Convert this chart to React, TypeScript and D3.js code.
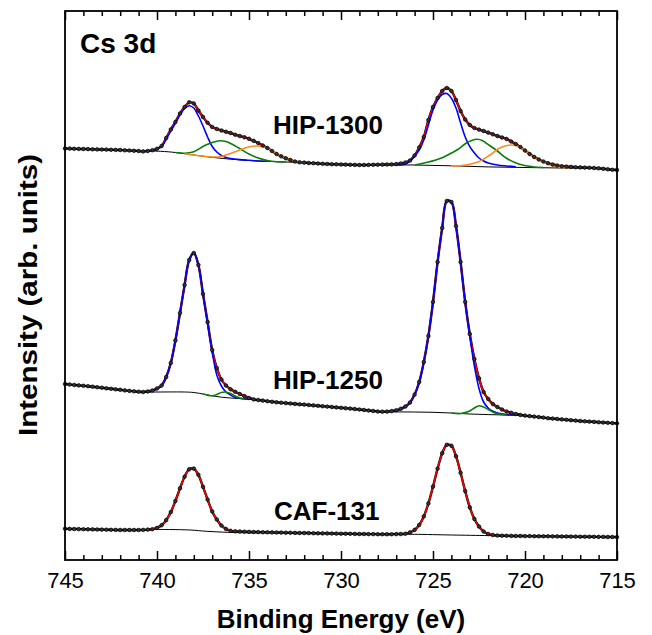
import React, { useEffect, useRef } from 'react';
import * as d3 from 'd3';

const settings = {
  margin: { top: 11, right: 35, bottom: 75, left: 65 },
  width: 652,
  height: 635
};

const font = "'Liberation Sans', Arial, sans-serif";

// binding energy grid of the measured spectra (eV), 0.25 eV steps, 745 -> 715
const energy = d3.range(121).map(i => 745 - i * 0.25);

const majorTicks = [745, 740, 735, 730, 725, 720, 715];
const minorTicks = d3.range(745, 714, -1).filter(v => v % 5 !== 0);

const hip1300 = [
  411.5, 411.4, 411.2, 411.1, 411.0, 410.9, 410.7, 410.6, 410.5, 410.4, 410.2, 410.1, 410.0,
  409.7, 409.5, 409.2, 409.0, 408.6, 409.0, 409.8, 411.2, 414, 422, 430.5, 438, 446.5, 453,
  457.7, 456.5, 449.5, 443, 437.2, 433, 431, 429.5, 428.2, 427, 425.3, 424, 422.7, 421.2,
  419.2, 417, 414.5, 412, 409, 406, 403.7, 401.7, 400, 398.5, 397.7, 397.4, 397, 396.8,
  396.5, 396.2, 396, 395.8, 395.7, 395.5, 395.4, 395.2, 395.1, 395, 395, 395.1, 395.2,
  395.3, 395.4, 395.5, 395.6, 395.9, 396.5, 397.5, 399.5, 404.5, 412.5, 423, 440, 453, 462,
  469, 472, 469, 460, 449, 440.5, 435, 432, 430.4, 429, 427.4, 425.7, 424, 422.5, 421,
  418.5, 416, 413, 409.5, 406, 403, 400.5, 398.5, 396.8, 395.5, 394.5, 393.8, 393.4, 393.1,
  392.8, 392.6, 392.4, 392.2, 392, 391.7, 391.2, 390.7, 390.2, 390
];

const hip1250 = [
  176, 175.5, 175, 174.6, 174.2, 173.8, 173.3, 172.8, 172.3, 171.7, 171.2, 170.7, 170.2,
  169.6, 169.1, 168.7, 168.3, 168, 168.5, 169.5, 171.5, 174.5, 183, 197, 219.5, 247, 275,
  300, 307, 295, 266, 238, 210, 192, 180.5, 174.5, 170.7, 168.2, 166, 164, 162, 160.6, 160,
  159.4, 158.8, 158.2, 157.7, 157.3, 156.9, 156.5, 156.1, 155.7, 155.4, 155, 154.6, 154.2,
  153.8, 153.4, 153, 152.6, 152.2, 151.8, 151.4, 151, 150.5, 150, 149.5, 149, 148.5, 148.3,
  148.4, 148.9, 149.7, 151.2, 153.5, 157.5, 165.4, 178, 198, 224, 258, 298, 332, 359, 358,
  334, 298, 258, 226, 201, 181.7, 168, 161, 156, 153, 150.5, 148.5, 147.2, 146, 145, 144.4,
  143.9, 143.4, 142.9, 142.4, 141.8, 141.4, 141, 140.6, 140.2, 139.8, 139.4, 139, 138.7,
  138.4, 138.1, 137.8, 137.5, 137.2, 136.9, 136.7
];

const caf131 = [
  31.2, 31.1, 31, 30.9, 30.8, 30.7, 30.6, 30.5, 30.4, 30.3, 30.2, 30.1, 30, 30, 30, 30, 30,
  30.1, 30.4, 30.8, 32.1, 34.8, 39.9, 47.9, 59, 71.7, 83.3, 90.7, 91.4, 85.2, 73.2, 60.4,
  48.6, 40.5, 34.5, 31, 29.2, 28.7, 28.5, 28.3, 28.1, 28, 27.9, 27.8, 27.7, 27.6, 27.5, 27.4,
  27.3, 27.2, 27.1, 27, 27, 26.9, 26.8, 26.7, 26.6, 26.6, 26.5, 26.4, 26.3, 26.3, 26.2, 26.1,
  26, 26, 25.9, 25.9, 25.8, 25.8, 25.8, 25.8, 25.9, 26, 26.3, 27.6, 30.1, 35, 43.6, 56.6,
  73.4, 91.4, 106.8, 115.2, 114.2, 103.8, 87.2, 68.9, 52.6, 41, 33.5, 28.5, 26, 25, 24.5,
  24.3, 24.2, 24.1, 24, 24, 23.9, 23.9, 23.8, 23.8, 23.7, 23.7, 23.6, 23.6, 23.5, 23.5,
  23.4, 23.4, 23.3, 23.3, 23.2, 23.2, 23.1, 23.1, 23, 23, 22.9
];

// fitted components, [binding energy, intensity]
const hip1300Bg = [
  [745, 411.5], [741, 409], [739.8, 408.7], [739, 407.5], [738, 405], [737, 402.6], [736, 400.8],
  [735, 399.5], [734, 398.7], [733, 398], [732, 397.4], [730, 395.5], [728, 395.3], [726, 395],
  [724, 394.2], [722, 393.1], [720, 392.5], [718, 392], [716, 391.7], [715, 390]
];
const hip1300Blue1 = [
  [741, 409], [740.5, 409], [740.25, 409.7], [740, 411], [739.75, 413.5], [739.5, 421],
  [739.25, 429], [739, 437], [738.75, 445], [738.5, 451.5], [738.25, 454.3], [738, 452],
  [737.75, 444], [737.5, 434], [737.25, 423], [737, 413.5], [736.75, 408], [736.5, 404.5],
  [736.25, 402.5], [736, 401.5], [735.5, 400.4], [735, 399.7], [734.5, 399], [734, 398.7]
];
const hip1300Green1 = [
  [739, 407.5], [738.5, 406.8], [738, 408.3], [737.5, 413.5], [737.25, 415.7], [737, 417.5],
  [736.6, 419.3], [736.25, 418.5], [736, 416.5], [735.5, 411.5], [735, 406], [734.5, 402],
  [734, 399.5], [733.5, 398.3], [733, 398]
];
const hip1300Orange1 = [
  [738.5, 406.3], [737.7, 404.3], [737, 403], [736.5, 403.5], [736, 406.5], [735.5, 410],
  [735, 413], [734.6, 414], [734.25, 413.2], [734, 411.7], [733.5, 406.7], [733, 401.7],
  [732.5, 398.7], [732, 397.4]
];
const hip1300Blue2 = [
  [727, 395], [726.5, 396], [726.25, 399], [726, 404], [725.75, 410], [725.5, 420],
  [725.25, 435], [725, 450], [724.75, 460], [724.5, 465.5], [724.25, 466.5], [724, 461.7],
  [723.75, 452], [723.5, 437], [723.25, 423], [723, 413.3], [722.75, 407], [722.5, 402],
  [722.25, 399], [722, 397], [721.5, 395], [721, 394], [720.5, 393.2]
];
const hip1300Green2 = [
  [726, 395], [725.3, 397.7], [724.5, 402.3], [724, 407], [723.7, 410], [723.2, 416.7],
  [722.9, 419.5], [722.6, 420.7], [722.3, 419.3], [722.1, 416.7], [721.5, 409], [721, 401.7],
  [720.3, 395.7], [719.6, 393.3], [719, 392.5]
];
const hip1300Orange2 = [
  [724, 394.2], [723.5, 394.3], [722.6, 397.7], [721.9, 405], [721.4, 411.7], [720.7, 415],
  [720.1, 411], [719.6, 403.3], [719, 397.7], [718.3, 393.3], [717.7, 392]
];

const hip1250Bg = [
  [745, 176], [741, 168.3], [740.5, 168], [738.5, 168], [738, 167.5], [737.5, 166], [737, 164.2],
  [736.5, 162.8], [736, 162], [735.5, 161.4], [735, 160.8], [734.5, 160], [734, 158.8],
  [732, 155.4], [730, 152.2], [728, 148.5], [727, 148.1], [726, 148], [725, 147.7], [724, 147],
  [723, 146], [722, 145.4], [721, 145], [720, 144.4], [718, 140.6], [716, 137.8], [715, 136.7]
];
const hip1250Blue1 = [
  [740.5, 168], [740.25, 169], [740, 171], [739.75, 174.5], [739.5, 183], [739.25, 197],
  [739, 219.5], [738.75, 247], [738.5, 275], [738.25, 300], [738, 307], [737.75, 295],
  [737.5, 266], [737.25, 237], [737, 208], [736.75, 185], [736.5, 174], [736.25, 168],
  [736, 165], [735.75, 162.5], [735.5, 161.8], [735, 160.8]
];
const hip1250Green1 = [
  [737.5, 166], [737, 164.2], [736.75, 165.5], [736.5, 167.5], [736.3, 168], [736, 166.5],
  [735.75, 164], [735.5, 162], [735.25, 161.1]
];
const hip1250Blue2 = [
  [727.5, 148.4], [727, 149.5], [726.75, 151], [726.5, 153.3], [726.25, 157.3], [726, 165],
  [725.75, 177.5], [725.5, 197.5], [725.25, 224], [725, 258], [724.75, 298], [724.5, 332],
  [724.25, 359], [724, 358], [723.75, 334], [723.5, 298], [723.25, 258], [723, 224],
  [722.75, 194], [722.5, 171.5], [722.25, 158], [722, 152], [721.75, 148.7], [721.5, 147],
  [721, 145.4], [720.5, 144.8]
];
const hip1250Green2 = [
  [724, 147], [723.5, 146.5], [723, 149], [722.75, 152], [722.5, 154.3], [722.25, 153],
  [722, 150.5], [721.75, 148], [721.5, 146.2], [721, 145]
];

const caf131Bg = [
  [745, 31.2], [741, 30], [740.4, 30.5], [738.2, 30], [737.3, 28.7], [735.5, 27.3], [733, 27.3],
  [730, 26.4], [727, 25.8], [726, 25.7], [724, 25], [722, 24.4], [721, 24.2], [720, 23.9],
  [715, 22.9]
];

// energy windows covered by the fit envelope
const hip1300Fit = [[741, 732], [727.5, 717.5]];
const hip1250Fit = [[740.5, 735], [727.5, 720.5]];
const caf131Fit = [[740.5, 735.5], [727, 721.5]];

const colors = { blue: '#0000ff', green: '#0b7d0b', orange: '#ff8a1c', red: '#ff0000' };

const spectra = [
  {
    name: 'HIP-1300', data: hip1300, background: hip1300Bg, fit: hip1300Fit,
    peaks: [
      { values: hip1300Blue1, color: colors.blue }, { values: hip1300Green1, color: colors.green },
      { values: hip1300Orange1, color: colors.orange }, { values: hip1300Blue2, color: colors.blue },
      { values: hip1300Green2, color: colors.green }, { values: hip1300Orange2, color: colors.orange }
    ],
    labelX: 273, labelY: 134
  },
  {
    name: 'HIP-1250', data: hip1250, background: hip1250Bg, fit: hip1250Fit,
    peaks: [
      { values: hip1250Blue1, color: colors.blue }, { values: hip1250Green1, color: colors.green },
      { values: hip1250Blue2, color: colors.blue }, { values: hip1250Green2, color: colors.green }
    ],
    labelX: 273, labelY: 389
  },
  {
    name: 'CAF-131', data: caf131, background: caf131Bg, fit: caf131Fit,
    peaks: [],
    labelX: 274, labelY: 520
  }
];

function EnergyAxis({ scale, orient, translate }) {
  const ref = useRef(null);

  useEffect(() => {
    const g = d3.select(ref.current);
    g.selectAll('*').remove();
    const make = orient === 'bottom' ? d3.axisBottom : d3.axisTop;

    const major = make(scale)
      .tickValues(majorTicks)
      .tickSizeInner(-9)
      .tickSizeOuter(0)
      .tickPadding(12)
      .tickFormat(orient === 'bottom' ? d3.format('d') : () => '');
    const minor = make(scale)
      .tickValues(minorTicks)
      .tickSizeInner(-5)
      .tickSizeOuter(0)
      .tickFormat(() => '');

    g.append('g').call(minor);
    g.append('g').call(major);
    g.selectAll('.domain').remove();
    g.selectAll('line').attr('stroke', '#000').attr('stroke-width', 1.5);
    g.selectAll('text')
      .attr('font-family', font)
      .attr('font-size', 22)
      .attr('fill', '#000');
  }, [scale, orient]);

  return <g ref={ref} transform={translate} />;
}

function Spectrum({ spec, x, y }) {
  const line = d3.line()
    .x(d => x(d[0]))
    .y(d => y(d[1]))
    .curve(d3.curveCatmullRom.alpha(0.5));

  const points = energy.map((e, i) => [e, spec.data[i]]);

  return (
    <g>
      <path d={line(points)} fill="none" stroke="#000" strokeWidth={2.4} />
      {spec.fit.map((r, i) => (
        <path key={'fit' + i}
          d={line(points.filter(p => p[0] <= r[0] && p[0] >= r[1]))}
          fill="none" stroke={colors.red} strokeWidth={1.6} />
      ))}
      <path d={line(spec.background)} fill="none" stroke="#000" strokeWidth={1} />
      {spec.peaks.map((p, i) => (
        <path key={'pk' + i} d={line(p.values)} fill="none" stroke={p.color} strokeWidth={1.6} />
      ))}
      {points.map((p, i) => (
        <circle key={i} cx={x(p[0])} cy={y(p[1])} r={1.8}
          fill="#333" stroke="#000" strokeWidth={0.7} />
      ))}
      <text x={spec.labelX} y={spec.labelY} fontFamily={font} fontWeight="bold" fontSize={26}>
        {spec.name}
      </text>
    </g>
  );
}

export default function App() {
  const { margin, width, height } = settings;
  const pw = width - margin.left - margin.right;
  const ph = height - margin.top - margin.bottom;

  const x = d3.scaleLinear().domain([745, 715]).range([margin.left, margin.left + pw]);
  const y = d3.scaleLinear().domain([0, ph]).range([margin.top + ph, margin.top]);

  return (
    <svg width={width} height={height}
      style={{ position: 'absolute', left: 0, top: 0, background: '#fff' }}>
      {spectra.map(s => <Spectrum key={s.name} spec={s} x={x} y={y} />)}
      <EnergyAxis scale={x} orient="bottom" translate={`translate(0, ${margin.top + ph})`} />
      <EnergyAxis scale={x} orient="top" translate={`translate(0, ${margin.top})`} />
      <rect x={margin.left} y={margin.top} width={pw} height={ph}
        fill="none" stroke="#000" strokeWidth={1.8} />
      <text x={80} y={53} fontFamily={font} fontWeight="bold" fontSize={28}>Cs 3d</text>
      <text x={margin.left + pw / 2} y={628} textAnchor="middle"
        fontFamily={font} fontWeight="bold" fontSize={26}>Binding Energy (eV)</text>
      <text transform="translate(37, 295) rotate(-90)" textAnchor="middle"
        textLength={282} lengthAdjust="spacingAndGlyphs"
        fontFamily={font} fontWeight="bold" fontSize={26}>Intensity (arb. units)</text>
    </svg>
  );
}
